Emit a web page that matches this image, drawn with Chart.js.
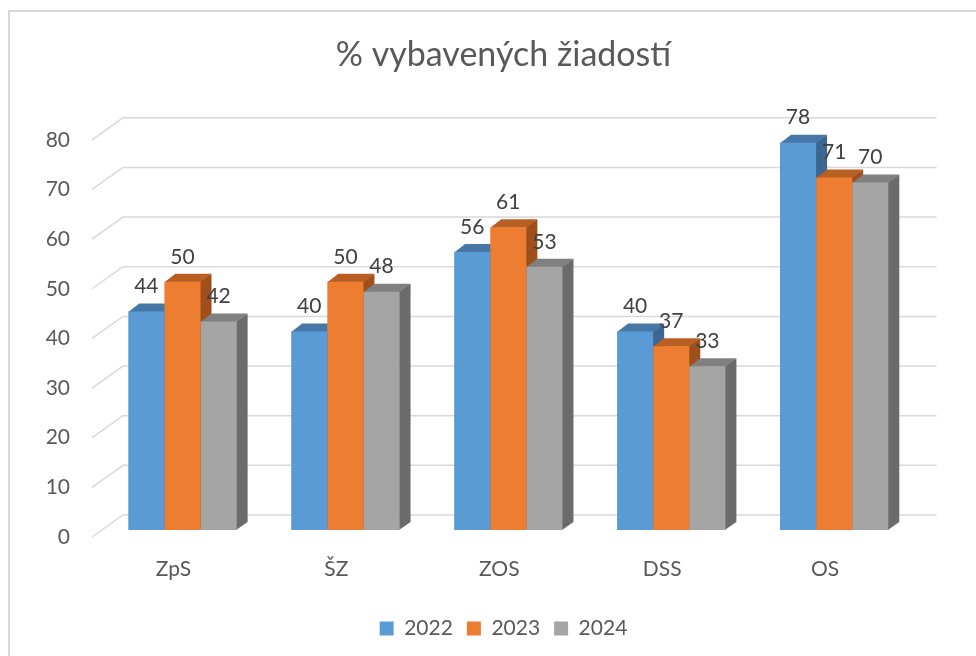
<!DOCTYPE html>
<html>
<head>
<meta charset="utf-8">
<script src="https://cdn.jsdelivr.net/npm/chart.js@4.4.1/dist/chart.umd.min.js"></script>
<style>
  html, body { margin: 0; padding: 0; background: #fff; overflow: hidden; }
  #frame { position: absolute; left: 8px; top: 10px; width: 1000px; height: 700px; border: 2px solid #d9d9d9; }
  #wrap { position: absolute; left: 0; top: 0; width: 976px; height: 656px; }
</style>
</head>
<body>
<div id="frame"></div>
<div id="wrap"><canvas id="chart"></canvas></div>
<script>
// data
var categories = ['ZpS', 'ŠZ', 'ZOS', 'DSS', 'OS'];
var years = ['2022', '2023', '2024'];
var values2022 = [44, 40, 56, 40, 78];
var values2023 = [50, 50, 61, 37, 71];
var values2024 = [42, 48, 53, 33, 70];
var yTicks = [0, 10, 20, 30, 40, 50, 60, 70, 80];

var frontColors = ['#5b9bd5', '#ed7d31', '#a5a5a5'];
var topColors = ['#4777a6', '#b95f24', '#808080'];
var sideColors = ['#3d6791', '#9e4f1b', '#6b6b6b'];

// fake 3d: depth of bars and of the back wall
var depthX = 11, depthY = -8;

var bars3d = {
  id: 'bars3d',
  beforeDatasetsDraw: function(chart) {
    var ctx = chart.ctx, yScale = chart.scales.y, area = chart.chartArea;
    ctx.save();
    // back wall gridlines + floor diagonals
    ctx.strokeStyle = '#d9d9d9';
    ctx.lineWidth = 1.5;
    yTicks.forEach(function(v) {
      var py = yScale.getPixelForValue(v);
      ctx.beginPath();
      ctx.moveTo(area.left - 9, py + 7);
      ctx.lineTo(area.left + 22, py - 15);
      ctx.lineTo(area.right + 21, py - 15);
      ctx.stroke();
    });
    // side and top faces, left to right so the next front hides them
    for (var j = 0; j < categories.length; j++) {
      chart.data.datasets.forEach(function(ds, i) {
        var bar = chart.getDatasetMeta(i).data[j];
        var l = bar.x - bar.width / 2, r = bar.x + bar.width / 2, t = bar.y, b = bar.base;
        ctx.fillStyle = sideColors[i];
        ctx.beginPath();
        ctx.moveTo(r - 0.5, t);
        ctx.lineTo(r + depthX, t + depthY);
        ctx.lineTo(r + depthX, b + depthY);
        ctx.lineTo(r - 0.5, b);
        ctx.closePath();
        ctx.fill();
        ctx.fillStyle = topColors[i];
        ctx.beginPath();
        ctx.moveTo(l, t + 0.5);
        ctx.lineTo(r, t + 0.5);
        ctx.lineTo(r + depthX, t + depthY);
        ctx.lineTo(l + depthX, t + depthY);
        ctx.closePath();
        ctx.fill();
      });
    }
    ctx.restore();
  },
  afterDatasetsDraw: function(chart) {
    var ctx = chart.ctx;
    ctx.save();
    ctx.font = '21px Lato';
    ctx.fillStyle = '#404040';
    ctx.textAlign = 'center';
    ctx.textBaseline = 'middle';
    chart.data.datasets.forEach(function(ds, i) {
      chart.getDatasetMeta(i).data.forEach(function(bar, j) {
        ctx.fillText(ds.data[j], bar.x, bar.y - 25);
      });
    });
    ctx.restore();
  }
};

Chart.defaults.font.family = 'Lato';
Chart.defaults.color = '#595959';

var chart = new Chart('chart', {
  type: 'bar',
  data: {
    labels: categories,
    datasets: [
      { label: years[0], data: values2022, backgroundColor: frontColors[0], borderWidth: 0, categoryPercentage: 0.665, barPercentage: 1 },
      { label: years[1], data: values2023, backgroundColor: frontColors[1], borderWidth: 0, categoryPercentage: 0.665, barPercentage: 1 },
      { label: years[2], data: values2024, backgroundColor: frontColors[2], borderWidth: 0, categoryPercentage: 0.665, barPercentage: 1 }
    ]
  },
  options: {
    responsive: true,
    maintainAspectRatio: false,
    animation: false,
    layout: { padding: { left: 41, right: 10, top: 11, bottom: 7 } },
    plugins: {
      title: {
        display: true,
        text: '% vybavených žiadostí',
        color: '#595959',
        font: { size: 34, weight: 'normal' },
        padding: { top: 24, bottom: 57 }
      },
      legend: {
        position: 'bottom',
        labels: { boxWidth: 14, boxHeight: 14, padding: 14, color: '#595959', font: { size: 21 } }
      },
      tooltip: { enabled: false }
    },
    scales: {
      x: {
        grid: { display: false, drawTicks: false },
        border: { display: false },
        ticks: { padding: 27, labelOffset: -9, color: '#595959', font: { size: 21 } },
        afterFit: function(s) { s.height = 74; }
      },
      y: {
        min: 0,
        max: 80,
        grid: { display: false, drawTicks: false },
        border: { display: false },
        ticks: { stepSize: 10, padding: 31, labelOffset: 7, color: '#595959', font: { size: 21 } },
        afterFit: function(s) { s.width = 60; }
      },
      // empty axis on the right, only keeps room for the back wall
      yRight: {
        type: 'linear',
        position: 'right',
        grid: { display: false, drawTicks: false },
        border: { display: false },
        ticks: { display: false },
        afterFit: function(s) { s.width = 50.4; }
      }
    }
  },
  plugins: [bars3d]
});
</script>
</body>
</html>
